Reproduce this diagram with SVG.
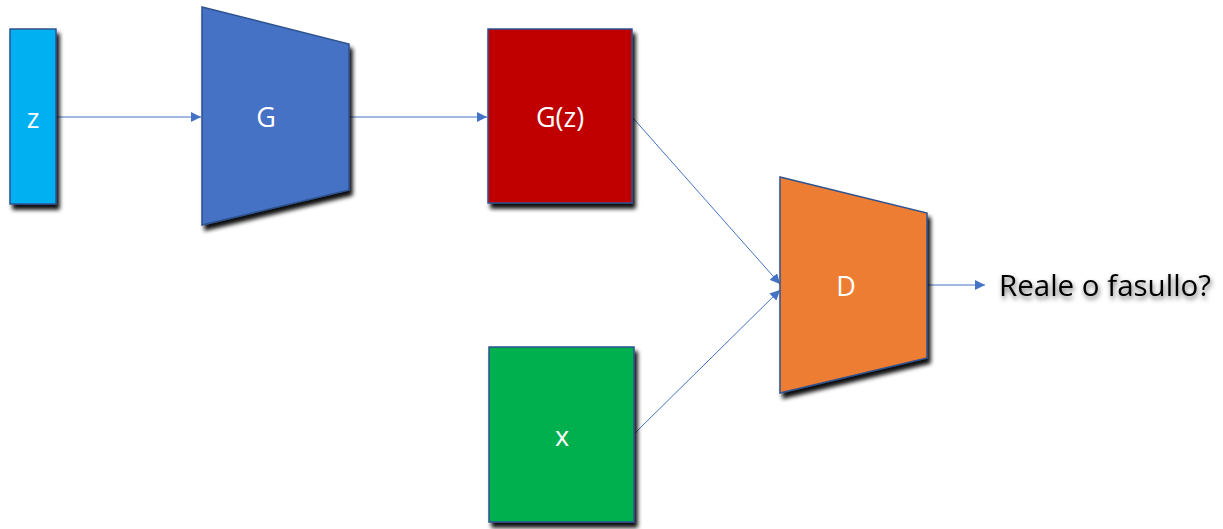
<svg xmlns="http://www.w3.org/2000/svg" width="1223" height="529" viewBox="0 0 1223 529">
<style>
.node{stroke:#2F528F;stroke-width:1.5;filter:url(#sh)}
.lbl{font-family:"Open Sans","Liberation Sans",sans-serif;font-size:27px;fill:#fff;text-anchor:middle}
.conn{stroke:#4472C4;stroke-width:1;fill:none;marker-end:url(#ah)}
</style>
<defs>
<filter id="sh" x="-20%" y="-20%" width="140%" height="140%">
<feDropShadow dx="3" dy="5" stdDeviation="2" flood-color="#000" flood-opacity="0.95"/>
</filter>
<filter id="tsh" x="-10%" y="-30%" width="120%" height="160%">
<feDropShadow dx="1" dy="3" stdDeviation="2.5" flood-color="#000" flood-opacity="0.6"/>
</filter>
<marker id="ah" viewBox="0 0 10 10" refX="10" refY="5" markerWidth="10" markerHeight="10" markerUnits="userSpaceOnUse" orient="auto">
<path d="M0,0 L10,5 L0,10 z" fill="#4472C4"/>
</marker>
</defs>
<g id="connectors">
<line class="conn" x1="57" y1="117" x2="201" y2="117"/>
<line class="conn" x1="349" y1="117" x2="487" y2="117"/>
<line class="conn" x1="633" y1="118" x2="780" y2="284"/>
<line class="conn" x1="635" y1="433" x2="780" y2="290"/>
<line class="conn" x1="927" y1="285" x2="985" y2="285"/>
</g>
<g id="node-z">
<rect class="node" x="10" y="29" width="46" height="175" fill="#00B0F0"/>
<text class="lbl" x="33" y="128">z</text>
</g>
<g id="node-G">
<polygon class="node" points="202,7 349,44 349,190 202,225" fill="#4472C4"/>
<text class="lbl" x="266" y="127">G</text>
</g>
<g id="node-Gz">
<rect class="node" x="488" y="29" width="144" height="174" fill="#C00000"/>
<text class="lbl" x="560" y="127">G(z)</text>
</g>
<g id="node-x">
<rect class="node" x="489" y="347" width="145" height="175" fill="#00B050"/>
<text class="lbl" x="562" y="446">x</text>
</g>
<g id="node-D">
<polygon class="node" points="780,177 927,213 927,358 780,393" fill="#ED7D31"/>
<text class="lbl" x="846" y="296">D</text>
</g>
<g id="output">
<text x="999" y="296" font-family="'Open Sans','Liberation Sans',sans-serif" font-size="29.5" fill="#000" filter="url(#tsh)">Reale o fasullo?</text>
</g>
</svg>
